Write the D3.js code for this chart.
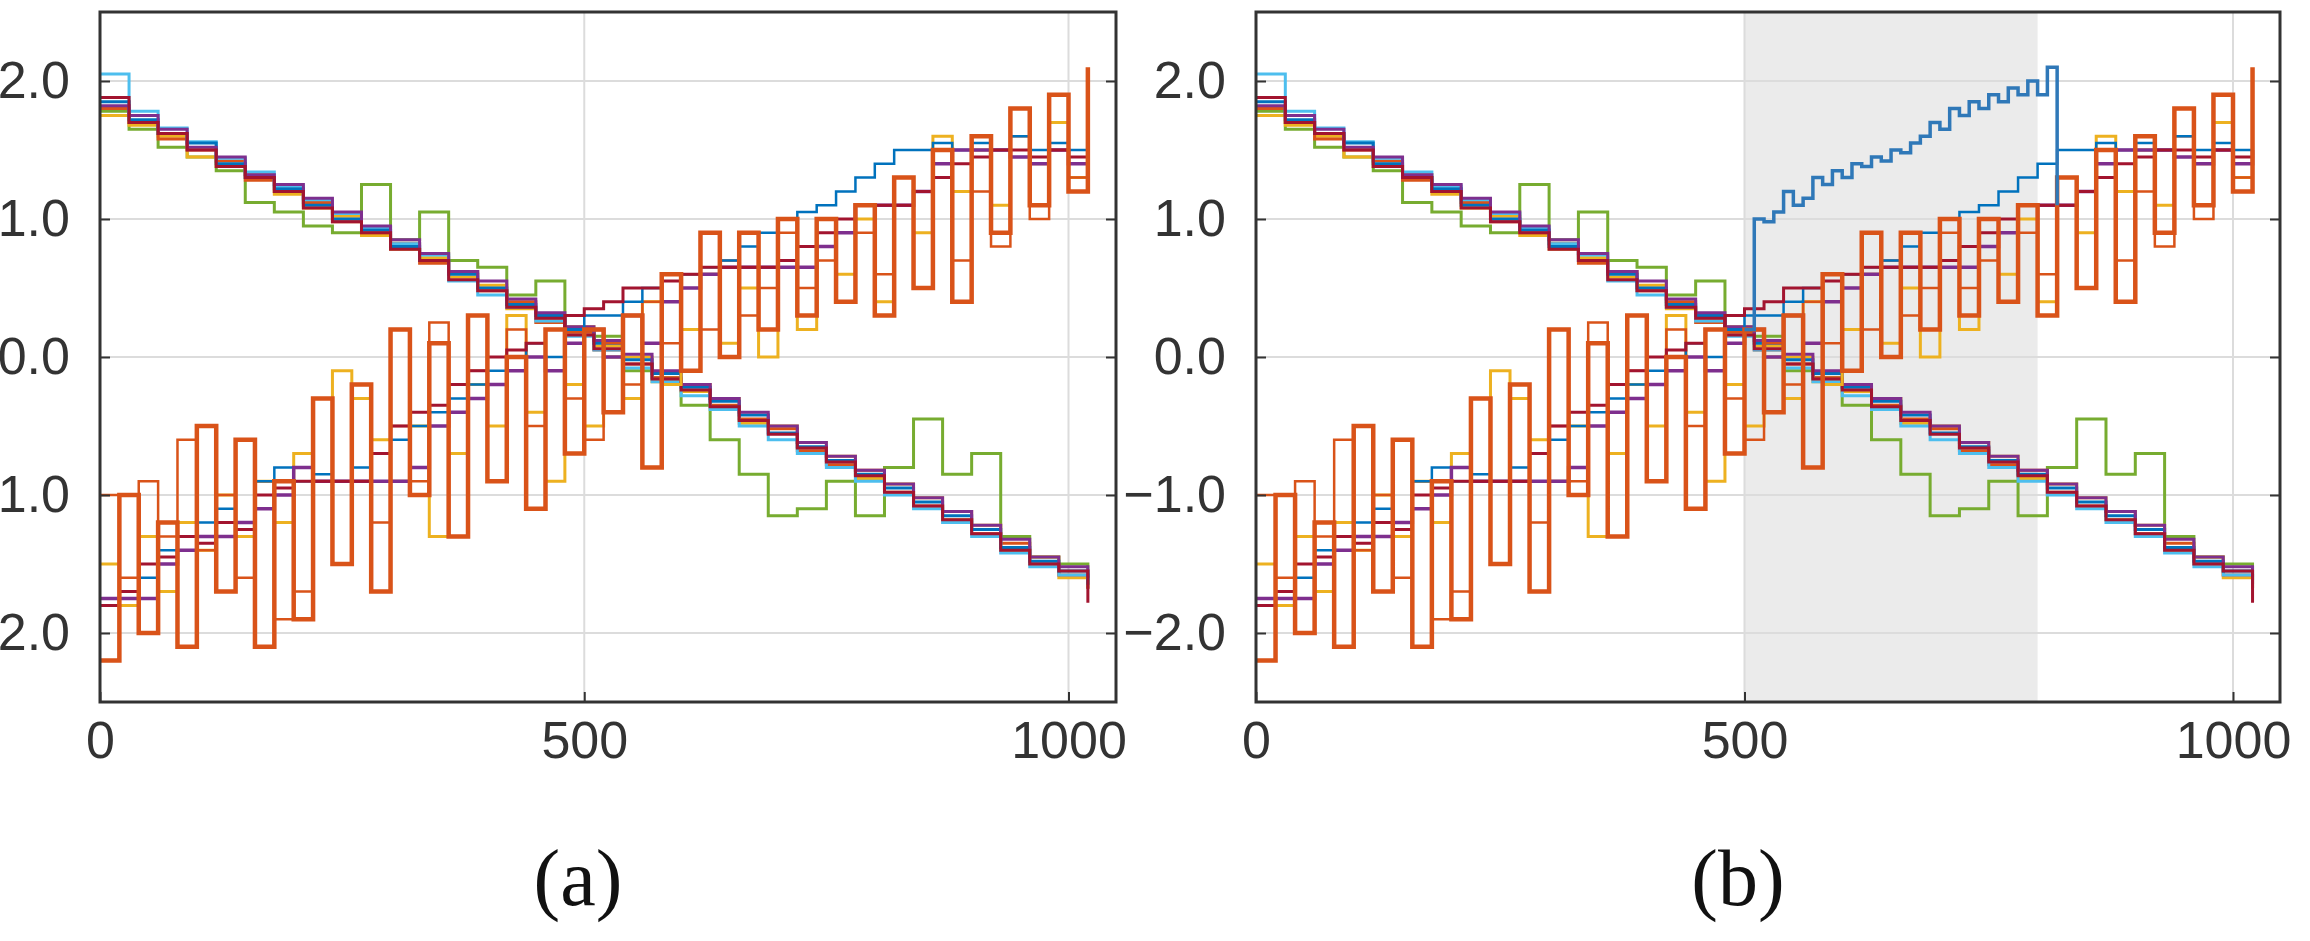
<!DOCTYPE html>
<html><head><meta charset="utf-8">
<script src="https://cdn.jsdelivr.net/npm/d3@7"></script>
<style>body{margin:0;background:#fff}</style></head>
<body><svg id="c" width="2310" height="941"></svg>
<script>
const xTicks=[0,500,1000], yTicks=[-2,-1,0,1,2], panelLabels=["(a)","(b)"];
const colors=["#0072BD","#D95319","#EDB120","#7E2F8E","#77AC30","#4DBEEE","#A2142F"];
// descending series, x step 30
const dBlue=[1.85,1.72,1.62,1.55,1.40,1.30,1.22,1.10,1.00,0.92,0.80,0.70,0.60,0.50,0.38,0.30,0.20,0.10,-0.02,-0.12,-0.22,-0.32,-0.42,-0.55,-0.65,-0.75,-0.85,-0.95,-1.05,-1.15,-1.25,-1.38,-1.48,-1.55,-1.65];
const dOrange=[1.80,1.70,1.58,1.50,1.42,1.28,1.20,1.12,0.98,0.90,0.82,0.68,0.62,0.48,0.40,0.25,0.18,0.05,-0.05,-0.15,-0.20,-0.35,-0.45,-0.52,-0.68,-0.78,-0.82,-0.98,-1.08,-1.12,-1.28,-1.35,-1.50,-1.58,-1.68];
const dYellow=[1.75,1.68,1.60,1.45,1.38,1.32,1.18,1.08,1.02,0.88,0.78,0.72,0.58,0.52,0.35,0.28,0.22,0.08,0.00,-0.18,-0.25,-0.30,-0.48,-0.50,-0.62,-0.72,-0.88,-0.92,-1.02,-1.18,-1.22,-1.40,-1.45,-1.60,-1.62];
const dPurple=[1.82,1.75,1.65,1.52,1.45,1.32,1.25,1.15,1.05,0.95,0.85,0.75,0.62,0.55,0.42,0.32,0.22,0.12,0.02,-0.10,-0.20,-0.30,-0.40,-0.50,-0.62,-0.72,-0.82,-0.92,-1.02,-1.12,-1.22,-1.32,-1.45,-1.52,-1.60];
const dGreen=[1.78,1.65,1.52,1.45,1.35,1.12,1.05,0.95,0.90,1.25,0.85,1.05,0.70,0.65,0.45,0.55,0.20,0.15,-0.10,-0.15,-0.35,-0.60,-0.85,-1.15,-1.10,-0.90,-1.15,-0.80,-0.45,-0.85,-0.70,-1.30,-1.45,-1.50,-1.68];
const dCyan=[2.05,1.78,1.66,1.56,1.44,1.34,1.24,1.14,1.04,0.94,0.82,0.74,0.55,0.45,0.36,0.26,0.15,0.05,-0.08,-0.18,-0.28,-0.38,-0.50,-0.60,-0.70,-0.80,-0.90,-1.00,-1.10,-1.20,-1.30,-1.42,-1.52,-1.58,-1.62];
const dRed=[1.88,1.70,1.62,1.50,1.38,1.30,1.20,1.08,0.98,0.90,0.78,0.70,0.56,0.48,0.36,0.28,0.16,0.06,-0.05,-0.16,-0.24,-0.36,-0.46,-0.56,-0.66,-0.76,-0.86,-0.98,-1.08,-1.18,-1.28,-1.40,-1.50,-1.55,-1.78];
// ascending series, x step 20
const aOrange=[-2.2,-1.0,-2.0,-1.2,-2.1,-0.5,-1.7,-0.6,-2.1,-0.9,-1.9,-0.3,-1.5,-0.2,-1.7,0.2,-1.0,0.1,-1.3,0.3,-0.9,0.0,-1.1,0.2,-0.7,0.2,-0.4,0.3,-0.8,0.6,-0.1,0.9,0.0,0.9,0.2,1.0,0.3,1.0,0.4,1.1,0.3,1.3,0.5,1.5,0.4,1.6,0.9,1.8,1.1,1.9,1.2,2.1];
const aYellow=[-1.5,-1.8,-1.3,-1.7,-1.2,-1.4,-1.0,-1.3,-0.9,-1.2,-0.7,-0.3,-0.1,-0.3,-0.6,-0.9,-0.5,-1.3,-0.7,-0.2,-0.5,0.3,-0.4,-0.9,-0.2,-0.5,0.0,-0.3,0.4,-0.2,0.2,0.6,0.1,0.5,0.0,0.7,0.2,0.8,0.6,1.0,0.4,1.3,0.9,1.6,1.2,1.5,1.1,1.8,1.4,1.7,1.3,1.6];
const aBrown=[-1.0,-1.6,-0.9,-1.3,-0.6,-1.4,-1.0,-1.6,-0.9,-1.9,-1.7,-0.3,-0.9,-0.2,-1.2,-0.5,-0.9,0.25,-0.4,-0.1,-0.9,0.2,-0.5,0.2,-0.3,-0.6,0.1,-0.2,0.4,0.1,0.6,0.2,0.7,0.3,0.5,0.9,0.5,0.7,0.4,0.9,0.6,1.1,0.5,1.4,0.7,1.2,0.8,1.6,1.0,1.5,1.3,1.4];
const aPurple=[-1.75,-1.75,-1.75,-1.5,-1.4,-1.3,-1.3,-1.2,-1.1,-1.0,-0.8,-0.9,-0.9,-0.9,-0.9,-0.9,-0.8,-0.5,-0.4,-0.3,-0.2,-0.1,0.0,-0.1,0.1,0.2,0.0,0.3,0.1,0.4,0.5,0.6,0.65,0.65,0.65,0.65,0.65,0.8,0.9,1.1,1.1,1.1,1.2,1.4,1.5,1.5,1.5,1.45,1.4,1.5,1.4,1.5];
const aBlue=[-1.8,-1.7,-1.6,-1.4,-1.4,-1.2,-1.1,-1.2,-0.9,-0.8,-0.9,-0.85,-0.9,-0.8,-0.7,-0.6,-0.5,-0.4,-0.3,-0.2,-0.1,0.0,0.1,0.0,0.2,0.3,0.3,0.4,0.5,0.6,0.6,0.65,0.7,0.8,0.9,1.0,1.05,1.1,1.2,1.3,1.4,1.5,1.5,1.55,1.5,1.55,1.5,1.6,1.5,1.55,1.5,1.55];
const aRed=[-1.8,-1.7,-1.5,-1.45,-1.3,-1.35,-1.2,-1.25,-1.0,-0.95,-0.9,-0.9,-0.9,-0.9,-0.7,-0.5,-0.4,-0.35,-0.2,-0.1,0.0,0.05,0.1,0.2,0.3,0.35,0.4,0.5,0.5,0.55,0.6,0.65,0.65,0.65,0.65,0.7,0.8,0.9,1.0,1.1,1.1,1.1,1.2,1.3,1.4,1.45,1.5,1.5,1.45,1.5,1.45,1.55];
// panel (b) anomaly, x step 10 from 500
const bX0=500;
const bAnom=[0.2,1.0,0.98,1.05,1.2,1.1,1.15,1.3,1.25,1.35,1.3,1.4,1.38,1.45,1.42,1.5,1.48,1.55,1.6,1.7,1.65,1.8,1.75,1.85,1.8,1.9,1.85,1.95,1.9,2.0,1.9,2.1,1.1];
const shade=[500,800];

const descending=[[dGreen,4],[dYellow,2],[dOrange,1],[dCyan,5],[dBlue,0],[dPurple,3],[dRed,6]];
const ascending=[[aYellow,2,3],[aBrown,1,2.5],[aBlue,0,2.5],[aPurple,3,3.5],[aRed,6,3],[aOrange,1,4.5]];

const svg=d3.select("#c");
const panels=[{l:100,r:1116,x1000:1068.5,lab:"(a)",b:false},{l:1256,r:2280,x1000:2233,lab:"(b)",b:true}];
const yTop=12, yBot=702;
const y=d3.scaleLinear().domain([-2.5,2.5]).range([yBot,yTop]);
panels.forEach((p,pi)=>{
  const x=d3.scaleLinear().domain([0,1000]).range([p.l,p.x1000]);
  const g=svg.append("g");
  if(p.b) g.append("rect").attr("x",x(shade[0])).attr("y",yTop).attr("width",x(shade[1])-x(shade[0])).attr("height",yBot-yTop).attr("fill","#ebebeb");
  g.selectAll(".gx").data(xTicks).join("line").attr("x1",d=>x(d)).attr("x2",d=>x(d)).attr("y1",yTop).attr("y2",yBot).attr("stroke","#dcdcdc").attr("stroke-width",2);
  g.selectAll(".gy").data(yTicks).join("line").attr("x1",p.l).attr("x2",p.r).attr("y1",d=>y(d)).attr("y2",d=>y(d)).attr("stroke","#dcdcdc").attr("stroke-width",2);
  const clip="clip"+pi;
  svg.append("clipPath").attr("id",clip).append("rect").attr("x",p.l).attr("y",yTop).attr("width",p.r-p.l).attr("height",yBot-yTop);
  const lg=g.append("g").attr("clip-path",`url(#${clip})`);
  const mk=(arr,step,x0)=>arr.map((v,i)=>[x0+i*step,v]);
  const line=d3.line().x(d=>x(d[0])).y(d=>y(d[1])).curve(d3.curveStepAfter);
  descending.forEach(([arr,c])=>lg.append("path").attr("d",line(mk(arr,30,0))).attr("fill","none").attr("stroke",colors[c]).attr("stroke-width",3));
  ascending.forEach(([arr,c,w])=>lg.append("path").attr("d",line(mk(arr,20,0))).attr("fill","none").attr("stroke",colors[c]).attr("stroke-width",w));
  if(p.b) lg.append("path").attr("d",line(mk(bAnom,10,bX0))).attr("fill","none").attr("stroke","#2F78B8").attr("stroke-width",3.5);
  g.append("rect").attr("x",p.l).attr("y",yTop).attr("width",p.r-p.l).attr("height",yBot-yTop).attr("fill","none").attr("stroke","#333").attr("stroke-width",3);
  const ax=g.append("g").attr("transform",`translate(0,${yBot})`).call(d3.axisBottom(x).tickValues(xTicks).tickSize(-10).tickPadding(40).tickFormat(d3.format("d")));
  const ay=g.append("g").attr("transform",`translate(${p.l},0)`).call(d3.axisLeft(y).tickValues(yTicks).tickSize(-10).tickPadding(30));
  const ar=g.append("g").attr("transform",`translate(${p.r},0)`).call(d3.axisRight(y).tickValues(yTicks).tickSize(-10).tickFormat(""));
  [ax,ay,ar].forEach(a=>{a.select(".domain").remove();a.selectAll("line").attr("stroke","#333").attr("stroke-width",2);
    a.selectAll("text").attr("font-family","Liberation Sans, Arial").attr("font-size",52).attr("fill","#333");});
  ax.selectAll("text").attr("dy","0.3em");
  g.append("text").attr("x",(p.l+p.r)/2-30).attr("y",905).attr("text-anchor","middle").attr("font-family","Liberation Serif, Times New Roman").attr("font-size",80).attr("fill","#111").text(p.lab);
});
</script></body></html>
